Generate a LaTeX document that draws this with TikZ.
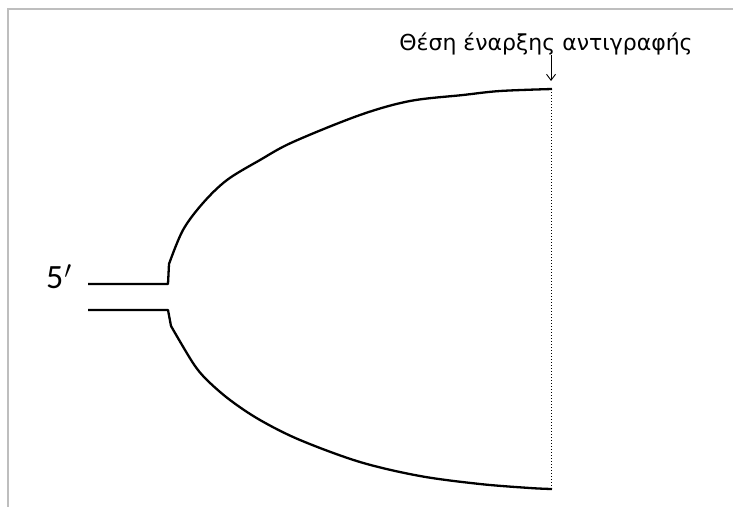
\documentclass[tikz,border=0pt]{standalone}
\usepackage{fontspec}
\usepackage{tikz}
\usetikzlibrary{arrows.meta,positioning,calc}
\newfontfamily\greekfont{DejaVu Sans}
\newfontfamily\endfont{Carlito}
\definecolor{frameGrey}{RGB}{190,190,190}

\begin{document}
\begin{tikzpicture}[
    x=1pt,y=-1pt,
    strand/.style={line width=2.3pt,black,line join=round},
    pointer/.style={-{Straight Barb[length=6pt,width=9pt]},line width=0.9pt,shorten >=8pt},
    guide/.style={dotted,line width=1pt},
    frame/.style={frameGrey,line width=2pt}
  ]
    \useasboundingbox (0,0) rectangle (733,507);
    \draw[frame] (733,9) -| (8,507);
    % fork ends
    \coordinate (top) at (168,284);
    \coordinate (bot) at (168,310);
    \coordinate (start) at (551,89);
    \coordinate (finish) at (551,489);
    \node[font=\endfont\fontsize{34}{38}\selectfont,anchor=base west,inner sep=0pt] (five) at (46,288) {5\kern1pt$'$};
    \node[font=\greekfont\fontsize{22}{26}\selectfont,anchor=base,inner sep=0pt] (label) at (546,50) {Θέση έναρξης αντιγραφής};
    \draw[strand] (88,284) -- (top) -- (169,264)
      plot[smooth,tension=0.55] coordinates {(169,264) (183,230) (203,203) (227,180) (260,160) (293,142) (360,115) (410,101) (463,95) (500,91) (552,89)};
    \draw[strand] (88,310) -- (bot) -- (171,326)
      plot[smooth,tension=0.55] coordinates {(171,326) (193,363) (207,380) (230,400) (260,420) (300,440) (360,462) (420,476) (480,484) (530,488) (552,489)};
    \draw[guide] (start) -- (finish);
    \draw[pointer] (label.south -| start) -- (start);
  \end{tikzpicture}
\end{document}
